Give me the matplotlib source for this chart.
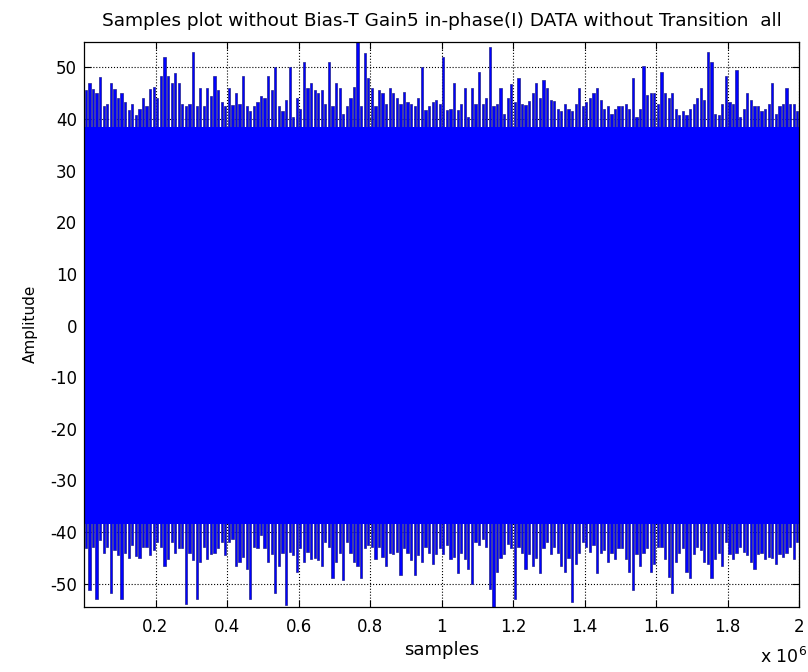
import matplotlib
matplotlib.use('Agg')
import matplotlib.pyplot as plt
import numpy as np
from matplotlib.ticker import FuncFormatter

# envelope of the I samples, one value every 10000 samples
step = 10000
upper = [
    45.7, 47, 45.8, 45, 48.1, 42.5, 43, 47, 45.8, 44,
    45, 43.4, 41.8, 43, 40.8, 42, 44, 42.5, 45.8, 46.3,
    44, 48.3, 52, 48.3, 47, 49, 47, 43, 42.5, 43,
    53, 42.5, 46, 42.5, 46, 44.4, 48.3, 45.7, 43.4, 42.5,
    46, 42.8, 45, 43, 48.3, 42.5, 41.5, 42.5, 43.4, 44.4,
    44, 48.3, 45.7, 50, 42.5, 41.5, 43.7, 50, 40.5, 44,
    42, 51, 46, 47, 45.7, 45, 45.7, 43, 51, 42.5,
    47, 46, 41, 42.5, 44, 46.3, 55, 42.5, 52.8, 48,
    46, 42.5, 45.7, 45, 43, 46, 45, 44, 43, 45.3,
    43.4, 43, 42.5, 44, 50, 41.8, 42.5, 43.4, 43.7, 43,
    52, 41.8, 42, 47, 41.8, 43, 46, 40.5, 46, 43,
    49.2, 43, 44, 54, 42.5, 43, 46, 41, 44, 46.8,
    43.4, 48, 43, 42.8, 43.5, 45, 47, 44, 47.6, 46,
    43.7, 43.5, 42, 41.5, 43, 42, 41.5, 43, 46, 42.5,
    43.4, 44, 45, 46, 43.7, 42, 42.5, 41, 42, 42.5,
    42.5, 43, 42, 48, 40.5, 42, 50.2, 44.7, 45, 45,
    43, 49.2, 45, 44, 45, 42, 40.8, 41.5, 40.8, 42,
    43, 44, 46, 43.7, 53, 51, 41, 40.8, 43, 48.3,
    43.4, 43, 49.5, 40.5, 42, 45, 43.7, 42.5, 42.5, 41.5,
    42, 43, 47, 41, 42.5, 43, 46, 43, 43, 41.5,
]
lower = [
    -43.2, -51.3, -43, -52.9, -41.5, -44, -43, -51.9, -43.5, -44.5,
    -52.9, -44, -45, -42.6, -44.7, -45, -43, -43, -44.5, -43.5,
    -41.9, -43, -46.5, -45.2, -42, -44, -43.2, -43.2, -54, -44,
    -45.5, -52.9, -45.8, -42.9, -45.2, -44.2, -44, -43.2, -41.9, -44.5,
    -42, -41.3, -46.5, -45.8, -44.9, -47.1, -52.9, -42.9, -43.2, -40.6,
    -43.2, -45.8, -44.2, -51.9, -46.5, -44, -54.2, -43.8, -44.5, -47.7,
    -43.2, -45.8, -43.8, -45.2, -45, -45.5, -46.5, -41.9, -42.9, -49,
    -45.8, -44, -49.4, -42, -44, -45.8, -46.5, -49, -43.2, -42.6,
    -43, -45.2, -42.9, -44.8, -46.5, -44, -44.2, -43.8, -48.4, -43.2,
    -44, -45.5, -48.4, -44.5, -45.8, -42.9, -44, -46.2, -44.2, -43.2,
    -44.2, -42.6, -45.2, -44.8, -48, -44, -45.2, -47.1, -50, -41.9,
    -42.5, -41.3, -43, -51, -54.5, -47.7, -45, -44.2, -42.3, -43.2,
    -52.9, -42.9, -44, -47.1, -44.2, -46.5, -45, -48, -43.2, -41.9,
    -44.2, -42.9, -44, -46.5, -47.7, -45, -53.5, -46.2, -44, -41.9,
    -43, -43.8, -42.6, -48, -44, -43.5, -45.8, -44, -45.2, -43.2,
    -43.2, -45.2, -47.7, -51.3, -44.2, -46.5, -44, -43.2, -47.7, -46.2,
    -42.9, -42.9, -45.2, -48.7, -51.9, -45.8, -44, -43.2, -47.7, -49,
    -44.2, -42.9, -43.5, -45.8, -46.2, -49, -45.2, -44, -46.5, -41.9,
    -44.2, -45.2, -44, -42.9, -43.8, -44.5, -45.8, -47.1, -44.2, -44,
    -45.2, -44.9, -45, -46.2, -44.2, -44.8, -44, -42.9, -45.2, -41.9,
]
# level up to which the band is solid blue
core = 38.5
xticks = [0.2e6, 0.4e6, 0.6e6, 0.8e6, 1.0e6, 1.2e6, 1.4e6, 1.6e6, 1.8e6, 2.0e6]
yticks = [-50, -40, -30, -20, -10, 0, 10, 20, 30, 40, 50]


def main():
    plt.rcParams['font.family'] = ['DejaVu Sans']
    plt.rcParams['axes.unicode_minus'] = False
    x = step / 2 + step * np.arange(len(upper))
    up = np.array(upper)
    lo = np.array(lower)

    fig = plt.figure(figsize=(8.08, 6.72), dpi=100)
    ax = fig.add_axes([0.104, 0.097, 0.885, 0.841])

    # spikes above / below the solid core, core drawn over their inner ends
    ax.bar(x, up - core + 1, bottom=core - 1, width=0.62 * step, color='#0000ff',
           edgecolor='#23238c', linewidth=0.5, zorder=2)
    ax.bar(x, -core + 1 - lo, bottom=lo, width=0.62 * step, color='#0000ff',
           edgecolor='#23238c', linewidth=0.5, zorder=2)
    ax.fill_between([0, 2e6], [-core, -core], [core, core], color='#0000ff',
                    lw=0, zorder=3)

    ax.set_xlim(1, 2e6)
    ax.set_ylim(-54.5, 55)
    ax.set_xticks(xticks)
    ax.set_yticks(yticks)
    ax.xaxis.set_major_formatter(FuncFormatter(lambda v, p: f'{v / 1e6:g}'))
    ax.tick_params(direction='in', top=True, right=True, labelsize=12,
                   length=5, width=0.8)
    ax.tick_params(axis='x', pad=8)
    ax.tick_params(axis='y', pad=5)
    ax.grid(True, linestyle=':', color='black', linewidth=0.8)
    ax.set_axisbelow(True)
    for s in ax.spines.values():
        s.set_linewidth(0.9)
        s.set_zorder(5)

    ax.set_title('Samples plot without Bias-T Gain5 in-phase(I) DATA without Transition  all',
                 fontsize=13.3, pad=11)
    ax.set_xlabel('samples', fontsize=13, labelpad=4)
    ax.set_ylabel('Amplitude', fontsize=11, labelpad=9)
    fig.text(0.94, 0.013, r'x 10$^{6}$', fontsize=12.5)

    plt.savefig('out.png', dpi=100)


if __name__ == "__main__":
    main()
